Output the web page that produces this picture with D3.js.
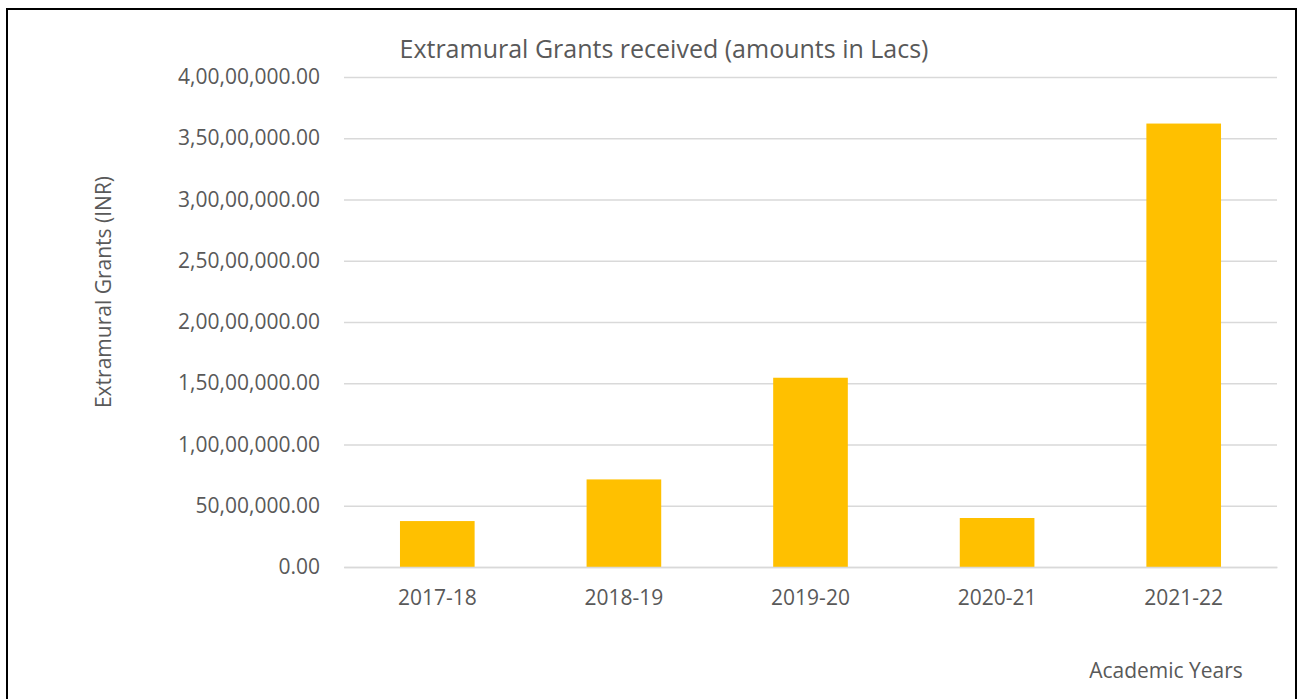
<!DOCTYPE html>
<html>
<head>
<meta charset="utf-8">
<script src="https://cdn.jsdelivr.net/npm/d3@7"></script>
<style>
  html, body { margin: 0; padding: 0; background: #fff; }
  svg { display: block; }
  text { font-family: "Open Sans", "Noto Sans", sans-serif; fill: #595959; }
</style>
</head>
<body>
<svg id="chart" width="1303" height="699"></svg>
<script>
const categories = ["2017-18", "2018-19", "2019-20", "2020-21", "2021-22"];
const grants = [3750000, 7150000, 15450000, 4000000, 36200000];
const tickValues = [0, 5000000, 10000000, 15000000, 20000000, 25000000, 30000000, 35000000, 40000000];
const tickLabels = ["0.00", "50,00,000.00", "1,00,00,000.00", "1,50,00,000.00", "2,00,00,000.00",
                    "2,50,00,000.00", "3,00,00,000.00", "3,50,00,000.00", "4,00,00,000.00"];
const titleText = "Extramural Grants received (amounts in Lacs)";
const yTitle = "Extramural Grants (INR)";
const xTitle = "Academic Years";

const FONT = "'Open Sans', 'Noto Sans', sans-serif";
const svg = d3.select("#chart");

// outer frame
svg.append("rect")
  .attr("x", 7).attr("y", 9).attr("width", 1289).attr("height", 700)
  .attr("fill", "none").attr("stroke", "#000").attr("stroke-width", 2);

const plot = { left: 344, right: 1277, top: 77, bottom: 567 };

const x = d3.scaleBand().domain(categories).range([plot.left, plot.right]).paddingInner(0.6).paddingOuter(0.3);
const y = d3.scaleLinear().domain([0, 40000000]).range([plot.bottom, plot.top]);

// gridlines + y labels
const yAxis = d3.axisLeft(y).tickValues(tickValues)
  .tickFormat((d, i) => tickLabels[i])
  .tickSize(-(plot.right - plot.left)).tickPadding(24);
const gy = svg.append("g").attr("transform", `translate(${plot.left},0)`).call(yAxis);
gy.select(".domain").remove();
gy.selectAll(".tick line").attr("stroke", "#d9d9d9").attr("stroke-width", 1.3);
gy.selectAll(".tick text").attr("x", -24).attr("font-size", 21).attr("fill", "#595959")
  .style("font-family", FONT);

// bars
svg.append("g").selectAll("rect").data(categories).join("rect")
  .attr("x", d => x(d))
  .attr("width", x.bandwidth())
  .attr("y", (d, i) => y(grants[i]))
  .attr("height", (d, i) => y(0) - y(grants[i]))
  .attr("fill", "#ffc000");

// x axis
const xAxis = d3.axisBottom(x).tickSize(0).tickPadding(23);
const gx = svg.append("g").attr("transform", `translate(0,${plot.bottom})`).call(xAxis);
gx.select(".domain").attr("stroke", "#d9d9d9").attr("stroke-width", 1.3);
gx.selectAll(".tick text").attr("font-size", 21).attr("fill", "#595959")
  .style("font-family", FONT);

// titles
svg.append("text").attr("x", 664).attr("y", 58).attr("text-anchor", "middle")
  .attr("font-size", 25).text(titleText);

svg.append("text").attr("transform", "translate(111,292) rotate(-90)")
  .attr("text-anchor", "middle").attr("font-size", 21).text(yTitle);

svg.append("text").attr("x", 1166).attr("y", 678).attr("text-anchor", "middle")
  .attr("font-size", 21).text(xTitle);
</script>
</body>
</html>
